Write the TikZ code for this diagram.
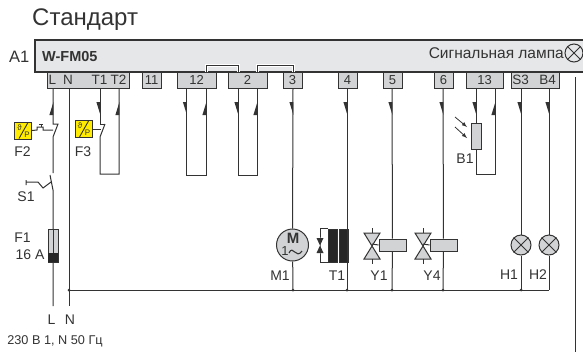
\documentclass[tikz,border=0pt]{standalone}
\usepackage{fontspec}
\setmainfont{Liberation Sans}
\definecolor{wire}{HTML}{333333}
\definecolor{panelgray}{HTML}{E6E7E8}
\definecolor{termgray}{HTML}{D1D3D4}
\definecolor{relayyellow}{HTML}{FFEC00}
\tikzset{
    wireline/.style={draw=wire, line width=1pt},
    term/.style={draw=wire, line width=1pt, fill=termgray, inner sep=0pt, minimum height=16pt, font=\fontsize{13}{13}\selectfont, text=wire},
    lbl/.style={inner sep=0pt, font=\fontsize{14}{14}\selectfont, text=wire},
    pin/.style={inner sep=0pt, font=\fontsize{13.5}{13.5}\selectfont, text=wire},
    junction/.style={circle, fill=wire, inner sep=0pt, minimum size=3pt},
    lampnode/.style={circle, draw=wire, line width=1pt, fill=termgray, minimum size=20pt, inner sep=0pt},
    coilbox/.style={draw=wire, line width=1pt, fill=termgray, inner sep=0pt},
    relaybox/.style={draw=wire, line width=0.9pt, fill=relayyellow, minimum width=17pt, minimum height=17pt, inner sep=0pt},
    wedgeup/.pic={\fill[wire] (0.4,0) -- (0.4,13) -- (-3.6,13) -- cycle;},
    wedgedown/.pic={\fill[wire] (0.4,0) -- (-3.6,0) -- (0.4,13) -- cycle;},
    relaytext/.pic={
        \node[inner sep=0pt, font=\fontsize{8}{8}\selectfont, text=wire] at (-3.5,-3) {ϑ};
        \node[inner sep=0pt, font=\fontsize{8}{8}\selectfont, text=wire] at (4,4) {P};
        \draw[wire, line width=0.9pt] (-4,8) -- (5,-8);
    },
    valvepic/.pic={
        \draw[wire, line width=1pt, fill=termgray] (-8,-11) -- (8,-11) -- (-8,15) -- (8,15) -- cycle;
        \draw[wire, line width=1pt] (0,-16) -- (0,-11) (0,15) -- (0,20);
    },
}
\begin{document}
\begin{tikzpicture}[x=1pt,y=-1pt]
    \useasboundingbox (0,0) rectangle (583,354);
    % controller
    \node[lbl, font=\fontsize{24}{24}\selectfont, anchor=west] (title) at (32,20) {Стандарт};
    \node[lbl, font=\fontsize{16.5}{16.5}\selectfont, anchor=west] (a1) at (9,57) {A1};
    \fill[panelgray] (35,40) rectangle (583,72);
    \draw[wire, line width=1.1pt] (583,40) -- (35,40) -- (35,72) -- (583,72);
    \node[pin, font=\fontsize{14.5}{14.5}\bfseries\selectfont, anchor=west] (fm) at (42,57) {W-FM05};
    \node[lbl, font=\fontsize{15.5}{15.5}\selectfont, anchor=east] (signal) at (564,53) {Сигнальная лампа};
    \node[lampnode, fill=panelgray, minimum size=18pt] (lamp) at (574,53) {};
    \draw[wire, line width=0.9pt] (lamp.north west) -- (lamp.south east) (lamp.north east) -- (lamp.south west);
    % bridges
    \draw[white, line width=3pt] (206,72) |- (238,65) -- (238,72);
    \draw[white, line width=3pt] (257,72) |- (293,65) -- (293,72);
    \draw[wireline] (206,72) |- (238,65) -- (238,72);
    \draw[wireline] (257,72) |- (293,65) -- (293,72);
    % terminals
    \node[term, minimum width=82pt] (tmain) at (88,80) {};
    \node[pin] (tL) at (52.5,79.5) {L};
    \node[pin] (tN) at (68,79.5) {N};
    \node[pin] (tT1) at (99.5,79.5) {T1};
    \node[pin] (tT2) at (118.5,79.5) {T2};
    \node[term, minimum width=19pt] (t11) at (151.5,80) {11};
    \node[term, minimum width=39pt] (t12) at (196.5,80) {12};
    \node[term, minimum width=39pt] (t2) at (247.5,80) {2};
    \node[term, minimum width=19pt] (t3) at (292.5,80) {3};
    \node[term, minimum width=19pt] (t4) at (347.5,80) {4};
    \node[term, minimum width=19pt] (t5) at (392.5,80) {5};
    \node[term, minimum width=19pt] (t6) at (443.5,80) {6};
    \node[term, minimum width=37pt] (t13) at (484.5,80) {13};
    \node[term, minimum width=48pt] (tS) at (535,80) {};
    \node[pin] (tS3) at (520.5,79.5) {S3};
    \node[pin] (tB4) at (547.5,79.5) {B4};
    % pins on the terminals
    \foreach \pname/\px in {pL/53,pN/69,pTa/100,pTb/119,pCa/186.5,pCb/206,pDa/238,pDb/257,pThree/293,pFour/347,pFive/392,pSix/443,pEa/476,pEb/495,pS/521,pB/549}
        \coordinate (\pname) at (\px,88);
    % loads on the bus
    \node[lampnode, minimum size=32pt] (m1) at (292.5,245) {};
    \node[inner sep=0pt, font=\fontsize{15}{15}\bfseries\selectfont, text=wire] (mm) at (293,238.5) {M};
    \node[inner sep=0pt, font=\fontsize{13}{13}\selectfont, text=wire] (mone) at (285,251.5) {1};
    \draw[wire, line width=1.1pt] (289,253) .. controls (293,244) and (296,260) .. (302,251);
    \node[coilbox, fill=black!85, minimum width=9pt, minimum height=33pt] (t1a) at (332.5,245.5) {};
    \node[coilbox, fill=black!85, minimum width=9pt, minimum height=33pt] (t1b) at (343.5,245.5) {};
    \coordinate (t1diode) at (320,245.5);
    \draw[wireline] (t1a.north west) -| (t1diode) |- (t1a.south west);
    \fill[wire] (316.5,238) -- (323.5,238) -- (316.5,253) -- (323.5,253) -- cycle;
    \coordinate (yone) at (372,244);
    \coordinate (yfour) at (423,244);
    \pic at (yone) {valvepic};
    \pic at (yfour) {valvepic};
    \node[coilbox, minimum width=27pt, minimum height=12pt] (y1) at (392.5,245) {};
    \node[coilbox, minimum width=27pt, minimum height=12pt] (y4) at (443.5,245) {};
    \draw[wireline] (yone) -- (y1.west);
    \draw[wireline] (yfour) -- (y4.west);
    \node[lampnode] (h1) at (521,245) {};
    \node[lampnode] (h2) at (549,245) {};
    \draw[wire, line width=0.9pt] (h1.north west) -- (h1.south east) (h1.north east) -- (h1.south west);
    \draw[wire, line width=0.9pt] (h2.north west) -- (h2.south east) (h2.north east) -- (h2.south west);
    \node[coilbox, minimum width=10pt, minimum height=26pt] (b1) at (476,136) {};
    \node[lbl] at (280,276) {M1};
    \node[lbl] at (337,276) {T1};
    \node[lbl] at (379,276) {Y1};
    \node[lbl] at (432,276) {Y4};
    \node[lbl] at (509,275) {H1};
    \node[lbl] at (538,275) {H2};
    \node[lbl] at (465,159) {B1};
    % bus and junctions
    \coordinate (busL) at (69,290);
    \coordinate (busR) at (549,290);
    \coordinate (jm) at (293,290);
    \coordinate (jt) at (347,290);
    \coordinate (jy) at (392,290);
    \coordinate (jf) at (443,290);
    \coordinate (jh) at (521,290);
    \draw[wireline] (busL) -- (busR);
    \foreach \j in {busL,jm,jt,jy,jf,jh}
        \node[junction] at (\j) {};
    \draw[wireline] (pThree) -- (m1);
    \draw[wireline] (m1) -- (jm);
    \draw[wireline] (pFour) -- (jt);
    \draw[wireline] (pFive) -- (y1);
    \draw[wireline] (y1) -- (jy);
    \draw[wireline] (pSix) -- (y4);
    \draw[wireline] (y4) -- (jf);
    \draw[wireline] (pS) -- (h1);
    \draw[wireline] (h1) -- (jh);
    \draw[wireline] (pB) -- (h2);
    \draw[wireline] (h2) -- (busR);
    % loops
    \coordinate (loopTa) at (100,174);
    \coordinate (loopTb) at (119,174);
    \draw[wireline] (pTb) -- (loopTb) -- (loopTa) -- (100,137) -- (105,124);
    \draw[wireline] (pTa) -- (100,124) -- (105,124);
    \draw[wireline] (pCa) |- (206,175) -- (pCb);
    \draw[wireline] (pDa) |- (257,175) -- (pDb);
    \draw[wireline] (pEa) -- (b1);
    \draw[wireline] (b1) -- (476,174) -| (pEb);
    % wedges
    \foreach \wx in {53,119,206,257,495}
        \pic at (\wx,102) {wedgeup};
    \foreach \wx in {100,186.5,238,293,347,392,443,476,521,549}
        \pic at (\wx,102) {wedgedown};
    % light on B1
    \draw[wire, line width=0.8pt, -{latex}] (455,117) -- (467,127);
    \draw[wire, line width=0.8pt, -{latex}] (455,127) -- (467,138);
    % line side
    \coordinate (lEnd) at (53,306);
    \coordinate (nEnd) at (69,306);
    \draw[wireline] (pN) -- (nEnd);
    \draw[wireline] (pL) -- (53,124) -- (58,124) -- (53,137) -- (53,173);
    \draw[wireline] (50,175) -- (53,190) -- (lEnd);
    \node[coilbox, minimum width=10pt, minimum height=33pt] (f1) at (53,245.5) {};
    \draw[wireline] (f1.north) -- (f1.south);
    \fill[black!85] (48,253) rectangle (58,262);
    % S1 and F2, F3
    \draw[wireline] (51,182) -- (43,188) -- (38,182) -- (26,182) (26,180) -- (26,185);
    \node[relaybox] (f2) at (23,130.5) {};
    \node[relaybox] (f3) at (83.5,129) {};
    \pic at (f2) {relaytext};
    \pic at (f3) {relaytext};
    \draw[wireline] (f2.east) -- (37,130) -- (37,127) -- (43,127) -- (43,130) -- (53,130);
    \draw[wireline] (39,124) -- (43,124) (41,124) -- (41,127);
    \draw[wireline] (f3.east) -- (101,129);
    \node[lbl] at (22.5,152) {F2};
    \node[lbl] at (83,152) {F3};
    \node[lbl] at (26,197) {S1};
    \node[lbl] at (22.5,238) {F1};
    \node[lbl] at (30,255) {16 A};
    \node[lbl] at (51.5,320) {L};
    \node[lbl] at (70,320) {N};
    \node[pin, font=\fontsize{12.7}{12.7}\selectfont] at (55,341) {230 В 1, N 50 Гц};
    % free wire on the right
    \coordinate (xa) at (575,77);
    \coordinate (xb) at (575,352);
    \draw[wireline] (xa) -- (xb);
\end{tikzpicture}
\end{document}
